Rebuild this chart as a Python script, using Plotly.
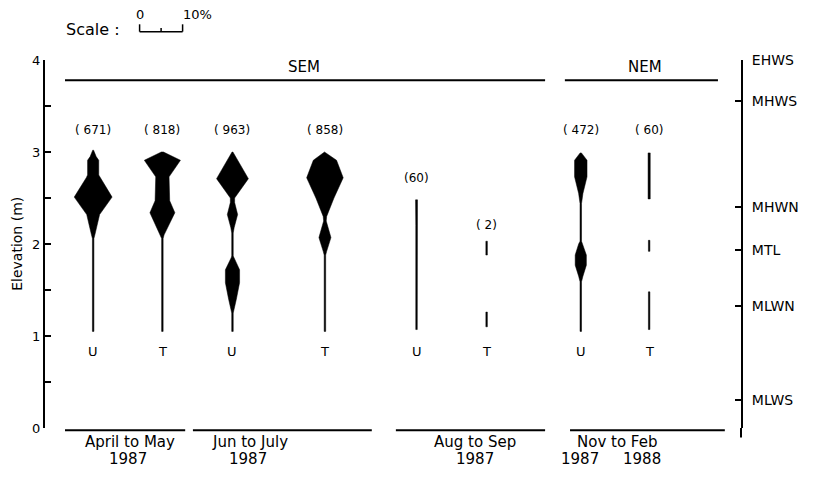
import plotly.graph_objects as go

# ---------------- data ----------------
# Kite profiles: elevation (m) and width (% of individuals); None separates segments
u_aprmay_elev = [1.05, 2.06, 2.10, 2.32, 2.51, 2.72, 2.75, 2.91, 2.95, 3.02]
u_aprmay_pct = [0.35, 0.35, 0.8, 3.0, 8.8, 3.2, 2.6, 2.6, 1.4, 0.2]

t_aprmay_elev = [1.05, 2.06, 2.10, 2.34, 2.47, 2.73, 2.91, 3.00]
t_aprmay_pct = [0.35, 0.35, 0.8, 5.8, 3.4, 3.1, 8.4, 0.5]

u_junjul_elev = [1.05, 1.25, 1.40, 1.58, 1.72, 1.85, 1.87, 2.12, 2.18, 2.32, 2.45, 2.50, 2.71, 3.00]
u_junjul_pct = [0.35, 0.35, 1.8, 3.3, 3.3, 0.6, 0.35, 0.35, 0.8, 2.4, 1.0, 1.0, 7.4, 0.2]

t_junjul_elev = [1.05, 1.88, 1.92, 2.07, 2.25, 2.30, 2.50, 2.72, 2.91, 3.00]
t_junjul_pct = [0.35, 0.35, 0.8, 2.8, 0.6, 0.8, 4.2, 8.5, 5.4, 0.2]

u_augsep_elev = [1.07, 2.20, 2.48]
u_augsep_pct = [0.35, 0.35, 0.45]

t_augsep_elev = [1.10, 1.26, None, 1.88, 2.03]
t_augsep_pct = [0.35, 0.35, None, 0.35, 0.35]

u_novfeb_elev = [1.05, 1.59, 1.65, 1.77, 1.88, 2.00, 2.03, 2.44, 2.55, 2.73, 2.91, 2.99]
u_novfeb_pct = [0.35, 0.35, 1.0, 2.6, 2.6, 1.0, 0.35, 0.35, 1.0, 2.9, 2.9, 0.3]

t_novfeb_elev = [1.07, 1.48, None, 1.92, 2.04, None, 2.49, 2.99]
t_novfeb_pct = [0.35, 0.35, None, 0.35, 0.35, None, 0.5, 0.5]

zone_labels = ["U", "T", "U", "T", "U", "T", "U", "T"]
counts = ["( 671)", "( 818)", "( 963)", "( 858)", "(60)", "( 2)", "( 472)", "( 60)"]

periods = ["April to May", "Jun to July", "Aug to Sep", "Nov to Feb"]
period_years = [["1987"], ["1987"], ["1987"], ["1987", "1988"]]
monsoons = ["SEM", "NEM"]

tide_names = ["EHWS", "MHWS", "MHWN", "MTL", "MLWN", "MLWS"]
tide_elev = [4.0, 3.55, 2.40, 1.93, 1.33, 0.30]

elev_ticks = [0, 0.5, 1, 1.5, 2, 2.5, 3, 3.5, 4]
elev_ticktext = ["0", "", "1", "", "2", "", "3", "", "4"]

# ---------------- layout constants ----------------
kites = [
    (u_aprmay_elev, u_aprmay_pct),
    (t_aprmay_elev, t_aprmay_pct),
    (u_junjul_elev, u_junjul_pct),
    (t_junjul_elev, t_junjul_pct),
    (u_augsep_elev, u_augsep_pct),
    (t_augsep_elev, t_augsep_pct),
    (u_novfeb_elev, u_novfeb_pct),
    (t_novfeb_elev, t_novfeb_pct),
]
centers = [11.2, 27.3, 43.6, 65.1, 86.4, 102.7, 124.6, 140.5]
count_y = [3.24, 3.24, 3.24, 3.24, 2.72, 2.21, 3.24, 3.24]
XMAX = 161.86
FONT = "DejaVu Sans"


def segments(elev, pct):
    segs, cur = [], []
    for e, p in zip(elev, pct):
        if e is None:
            if cur:
                segs.append(cur)
            cur = []
        else:
            cur.append((e, p))
    if cur:
        segs.append(cur)
    return segs


fig = go.Figure()
for (elev, pct), c in zip(kites, centers):
    xs, ys = [], []
    for seg in segments(elev, pct):
        right = [(c + p / 2, e) for e, p in seg]
        left = [(c - p / 2, e) for e, p in reversed(seg)]
        pts = right + left + [right[0]]
        xs += [p[0] for p in pts] + [None]
        ys += [p[1] for p in pts] + [None]
    fig.add_trace(go.Scatter(x=xs, y=ys, mode="lines", fill="toself",
                             fillcolor="black", line=dict(color="black", width=0.5),
                             hoverinfo="skip", showlegend=False))

# invisible trace for right axis
fig.add_trace(go.Scatter(x=[0], y=[0], yaxis="y2", mode="markers",
                         marker=dict(opacity=0), showlegend=False, hoverinfo="skip"))


def txt(x, y, text, size, xref="x", yref="y", **kw):
    d = dict(x=x, y=y, xref=xref, yref=yref, text=text, showarrow=False,
             xanchor="center", yanchor="middle",
             font=dict(size=size, family=FONT, color="black"))
    d.update(kw)
    return d


ann = []
for c, lab, cnt, cy in zip(centers, zone_labels, counts, count_y):
    ann.append(txt(c, 0.83, lab, 13))
    ann.append(txt(c, cy, cnt, 12))

# monsoon headers
header_x = [(4.65, 116.3), (120.9, 156.5)]
header_lab_x = [60.3, 139.5]
shapes = []
for (x0, x1), lx, name in zip(header_x, header_lab_x, monsoons):
    shapes.append(dict(type="line", xref="x", yref="y", x0=x0, x1=x1, y0=3.78, y1=3.78,
                       line=dict(color="black", width=2)))
    ann.append(txt(lx, 3.92, name, 15))

# period baselines and labels
period_x = [(4.65, 32.6), (34.4, 76.0), (81.6, 116.3), (122.1, 158.1)]
period_lab_x = [19.8, 47.7, 100.0, 133.0]
period_year_x = [[19.3], [47.2], [100.0], [124.4, 138.8]]
for (x0, x1), lx, yxs, p, yrs in zip(period_x, period_lab_x, period_year_x, periods, period_years):
    shapes.append(dict(type="line", xref="x", yref="paper", x0=x0, x1=x1, y0=-0.006, y1=-0.006,
                       line=dict(color="black", width=2)))
    ann.append(txt(lx, -0.037, p, 15, yref="paper"))
    for yx, yr in zip(yxs, yrs):
        ann.append(txt(yx, -0.083, yr, 15, yref="paper"))

# right axis extension below 0
shapes.append(dict(type="line", xref="paper", yref="paper", x0=1, x1=1, y0=0, y1=-0.026,
                   line=dict(color="black", width=2)))

# scale bar (10 % wide)
sb0, sb1 = 22.0, 32.0
sby, sbt = 1.077, 1.097
shapes += [
    dict(type="line", xref="x", yref="paper", x0=sb0, x1=sb1, y0=sby, y1=sby, line=dict(color="black", width=1.5)),
    dict(type="line", xref="x", yref="paper", x0=sb0, x1=sb0, y0=sby, y1=sbt, line=dict(color="black", width=1.5)),
    dict(type="line", xref="x", yref="paper", x0=sb1, x1=sb1, y0=sby, y1=sbt, line=dict(color="black", width=1.5)),
    dict(type="line", xref="x", yref="paper", x0=(sb0 + sb1) / 2, x1=(sb0 + sb1) / 2, y0=sby, y1=sby + 0.01,
         line=dict(color="black", width=1.5)),
]
ann.append(txt(17.9, 1.083, "Scale :", 16, yref="paper", xanchor="right"))
ann.append(txt(sb0, 1.124, "0", 13, yref="paper"))
ann.append(txt(sb1 + 3.5, 1.124, "10%", 13, yref="paper"))

ann.append(txt(-0.0405, 0.5, "Elevation (m)", 14, xref="paper", yref="paper", textangle=-90))

fig.update_layout(
    width=817, height=479,
    margin=dict(l=37, r=84, t=52, b=59),
    paper_bgcolor="white", plot_bgcolor="white",
    showlegend=False,
    font=dict(family=FONT, color="black"),
    xaxis=dict(range=[0, XMAX], visible=False, fixedrange=True),
    yaxis=dict(range=[0, 4], showline=True, linecolor="black", linewidth=2,
               ticks="inside", ticklen=6, tickwidth=1.5, tickcolor="black",
               tickvals=elev_ticks, ticktext=elev_ticktext, showgrid=False,
               zeroline=False, tickfont=dict(size=13, family=FONT, color="black")),
    yaxis2=dict(range=[0, 4], overlaying="y", side="right", showline=True,
                linecolor="black", linewidth=2, ticks="inside", ticklen=6,
                tickwidth=1.5, tickcolor="black", tickvals=tide_elev, ticktext=tide_names,
                showgrid=False, zeroline=False, ticklabelstandoff=6,
                tickfont=dict(size=14, family=FONT, color="black")),
    shapes=shapes,
    annotations=ann,
)

fig.write_html("out.html")
